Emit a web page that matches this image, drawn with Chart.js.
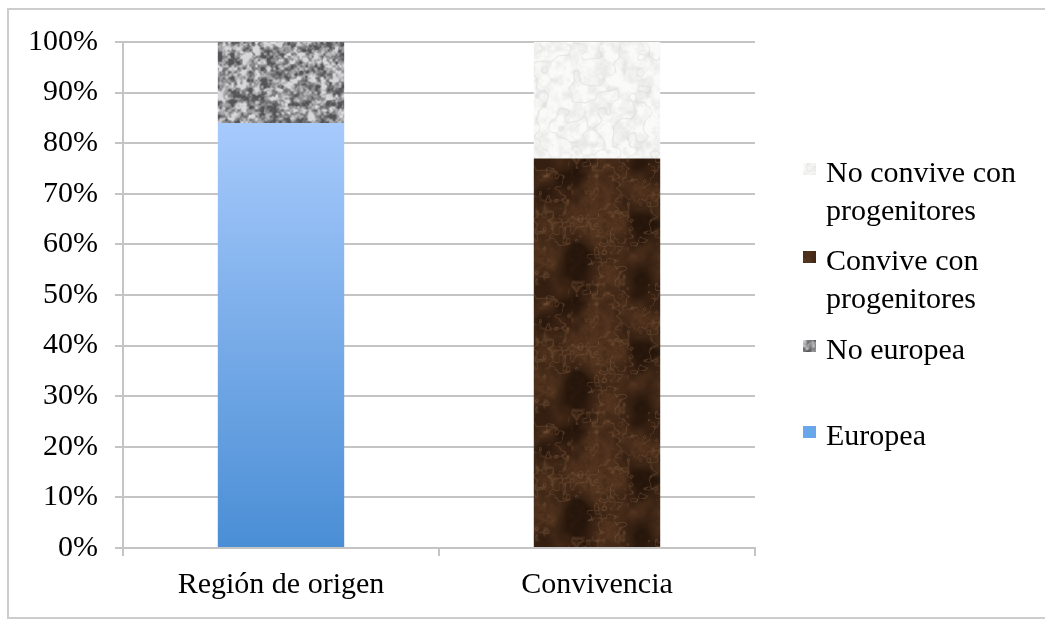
<!DOCTYPE html>
<html>
<head>
<meta charset="utf-8">
<script src="https://cdn.jsdelivr.net/npm/chart.js@4/dist/chart.umd.min.js"></script>
<style>
  html, body { margin: 0; padding: 0; background: #ffffff; overflow: hidden; }
  #wrap { width: 1045px; height: 619px; position: relative; }
</style>
</head>
<body>
<div id="wrap"><canvas id="chart" width="1045" height="619"></canvas></div>
<script>
// Categories and series values (percent of each group)
const categories = ['Región de origen', 'Convivencia'];
const europea = [84, null];
const noEuropea = [16, null];
const convive = [null, 77];
const noConvive = [null, 23];
const yTickStep = 10;
const seriesNames = {
  europea: ['Europea'],
  noEuropea: ['No europea'],
  convive: ['Convive con', 'progenitores'],
  noConvive: ['No convive con', 'progenitores']
};

const FONT = '"Liberation Serif", "Times New Roman", serif';
const FONT_SIZE = 30;

// ---- procedural textures for the bar fills ----
function rng(seed) {
  return function () {
    seed = (seed + 0x6D2B79F5) | 0;
    let t = Math.imul(seed ^ (seed >>> 15), 1 | seed);
    t = (t + Math.imul(t ^ (t >>> 7), 61 | t)) ^ t;
    return ((t ^ (t >>> 14)) >>> 0) / 4294967296;
  };
}
function valueNoise(size, cell, rand) {
  const n = Math.max(1, Math.round(size / cell));
  const g = new Float32Array(n * n);
  for (let i = 0; i < g.length; i++) g[i] = rand();
  const sm = t => t * t * (3 - 2 * t);
  return function (x, y) {
    const gx = x / size * n, gy = y / size * n;
    const x0 = Math.floor(gx), y0 = Math.floor(gy);
    const fx = sm(gx - x0), fy = sm(gy - y0);
    const a = g[((y0 % n) * n) + (x0 % n)];
    const b = g[((y0 % n) * n) + ((x0 + 1) % n)];
    const c = g[(((y0 + 1) % n) * n) + (x0 % n)];
    const d = g[(((y0 + 1) % n) * n) + ((x0 + 1) % n)];
    return (a + (b - a) * fx) * (1 - fy) + (c + (d - c) * fx) * fy;
  };
}
function fbm(layers) {
  return (x, y) => {
    let s = 0, w = 0;
    for (const [f, k] of layers) { s += f(x, y) * k; w += k; }
    return s / w;
  };
}
const lerp = (a, b, t) => a + (b - a) * t;
const clamp = t => Math.max(0, Math.min(1, t));
function mix(c1, c2, t) { return [lerp(c1[0], c2[0], t), lerp(c1[1], c2[1], t), lerp(c1[2], c2[2], t)]; }

function makeTexture(size, colorAt) {
  const cv = document.createElement('canvas');
  cv.width = size; cv.height = size;
  const c = cv.getContext('2d');
  const img = c.createImageData(size, size);
  for (let y = 0; y < size; y++) {
    for (let x = 0; x < size; x++) {
      const col = colorAt(x, y);
      const i = (y * size + x) * 4;
      img.data[i] = col[0]; img.data[i + 1] = col[1]; img.data[i + 2] = col[2]; img.data[i + 3] = 255;
    }
  }
  c.putImageData(img, 0, 0);
  return cv;
}

const S = 128;
// grey granite, fine grain
const granite = (() => {
  const r = rng(11);
  const n = fbm([[valueNoise(S, 6, r), 0.45], [valueNoise(S, 3, r), 0.35], [valueNoise(S, 2, r), 0.2]]);
  return makeTexture(S, (x, y) => {
    const v = n(x, y);
    const t = clamp((v - 0.28) * 2.4);
    return mix([85, 85, 88], [215, 215, 217], t);
  });
})();
// pale marble, soft grey speckle on near-white
const paleMarble = (() => {
  const r = rng(23);
  const n = fbm([[valueNoise(S, 8, r), 0.5], [valueNoise(S, 4, r), 0.3], [valueNoise(S, 2, r), 0.2]]);
  const v2 = fbm([[valueNoise(S, 16, r), 0.6], [valueNoise(S, 8, r), 0.4]]);
  return makeTexture(S, (x, y) => {
    const base = mix([250, 250, 249], [232, 232, 231], clamp((n(x, y) - 0.35) * 2.2));
    const vein = clamp(1 - Math.abs(v2(x, y) - 0.5) / 0.05);
    return mix(base, [214, 214, 214], vein * 0.5);
  });
})();
// dark brown marble with warm lighter veins
const brownMarble = (() => {
  const r = rng(37);
  const big = fbm([[valueNoise(S, 32, r), 0.55], [valueNoise(S, 16, r), 0.3], [valueNoise(S, 8, r), 0.15]]);
  const vn = fbm([[valueNoise(S, 32, r), 0.45], [valueNoise(S, 16, r), 0.3], [valueNoise(S, 4, r), 0.25]]);
  const fine = fbm([[valueNoise(S, 4, r), 0.6], [valueNoise(S, 2, r), 0.4]]);
  return makeTexture(S, (x, y) => {
    const base = mix([36, 20, 10], [86, 54, 32], clamp((big(x, y) - 0.32) * 2.6));
    const vein = clamp(1 - Math.abs(vn(x, y) - 0.5) / 0.06);
    const c = mix(base, [128, 92, 62], vein * vein * 0.6);
    return mix(c, [50, 30, 16], (fine(x, y) - 0.5) * 0.6 + 0.2);
  });
})();

const ctx0 = document.getElementById('chart').getContext('2d');
const granitePat = ctx0.createPattern(granite, 'repeat');
const palePat = ctx0.createPattern(paleMarble, 'repeat');
const brownPat = ctx0.createPattern(brownMarble, 'repeat');

function blueFill(context) {
  const chart = context.chart;
  if (!chart.chartArea) return '#6fa8ec';
  const y = chart.scales.y;
  const top = y.getPixelForValue(europea[0]);
  const bottom = y.getPixelForValue(0);
  const g = chart.ctx.createLinearGradient(0, top, 0, bottom);
  g.addColorStop(0, '#a7cafc');
  g.addColorStop(1, '#4a8ed5');
  return g;
}

// frame along the top, left and bottom of the chart
const framePlugin = {
  id: 'frame',
  beforeDraw(chart) {
    const c = chart.ctx;
    c.save();
    c.strokeStyle = '#cdcdcd';
    c.lineWidth = 2;
    c.beginPath();
    c.moveTo(chart.width, 9);
    c.lineTo(8, 9);
    c.lineTo(8, 618);
    c.lineTo(chart.width, 618);
    c.stroke();
    c.restore();
  }
};

// right-hand legend, listed top to bottom in reverse series order
const legendItems = [
  { lines: seriesNames.noConvive, fill: palePat, dy: 0 },
  { lines: seriesNames.convive, fill: brownPat, dy: 88 },
  { lines: seriesNames.noEuropea, fill: granitePat, dy: 177 },
  { lines: seriesNames.europea, fill: '#6aa6ea', dy: 263 }
];
const legendPlugin = {
  id: 'sideLegend',
  afterDraw(chart) {
    const c = chart.ctx;
    const area = chart.chartArea;
    const x0 = area.right + 48;
    const y0 = area.top + 140;
    c.save();
    c.font = FONT_SIZE + 'px ' + FONT;
    c.textBaseline = 'alphabetic';
    c.textAlign = 'left';
    legendItems.forEach(it => {
      const by = y0 + it.dy;
      c.fillStyle = it.fill;
      c.fillRect(x0, by - 19, 13, 12);
      c.fillStyle = '#000000';
      it.lines.forEach((ln, i) => c.fillText(ln, x0 + 23, by + i * 37.5));
    });
    c.restore();
  }
};

new Chart(ctx0, {
  type: 'bar',
  data: {
    labels: categories,
    datasets: [
      { label: seriesNames.europea.join(' '), data: europea, backgroundColor: blueFill },
      { label: seriesNames.noEuropea.join(' '), data: noEuropea, backgroundColor: granitePat },
      { label: seriesNames.convive.join(' '), data: convive, backgroundColor: brownPat },
      { label: seriesNames.noConvive.join(' '), data: noConvive, backgroundColor: palePat }
    ]
  },
  options: {
    responsive: false,
    animation: false,
    devicePixelRatio: 1,
    barPercentage: 0.4,
    categoryPercentage: 1.0,
    layout: { padding: { left: 0, top: 42, right: 290, bottom: 0 } },
    plugins: { legend: { display: false }, tooltip: { enabled: false } },
    scales: {
      x: {
        stacked: true,
        afterFit(scale) { scale.height = 71; },
        grid: { drawOnChartArea: false, drawTicks: true, tickLength: 8, color: '#c4c4c4', lineWidth: 2 },
        border: { display: true, color: '#c4c4c4', width: 2 },
        ticks: { color: '#000000', font: { family: FONT, size: FONT_SIZE }, padding: 11 }
      },
      y: {
        stacked: true,
        min: 0,
        max: 100,
        afterFit(scale) { scale.width = 123; },
        grid: { color: '#c4c4c4', lineWidth: 2, tickLength: 8, drawTicks: true },
        border: { display: true, color: '#c4c4c4', width: 2 },
        ticks: {
          stepSize: yTickStep,
          color: '#000000',
          font: { family: FONT, size: FONT_SIZE },
          padding: 17,
          callback: v => v + '%'
        }
      }
    }
  },
  plugins: [framePlugin, legendPlugin]
});
</script>
</body>
</html>
